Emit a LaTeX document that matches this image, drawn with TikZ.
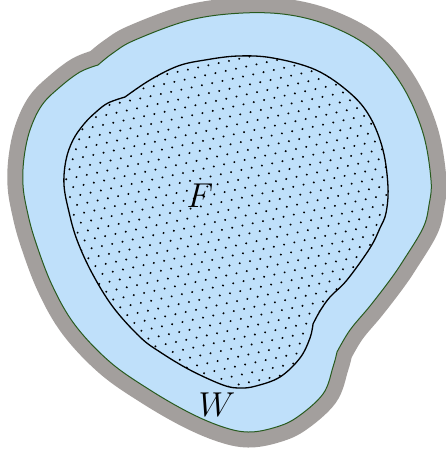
\documentclass[tikz,border=0pt]{standalone}
\definecolor{wblue}{RGB}{191,224,250}
\definecolor{wgray}{RGB}{163,159,157}
\definecolor{wgreen}{RGB}{40,90,30}
\tikzset{
  border/.style={draw=wgray, line width=15.5pt},
  water/.style={fill=wblue, draw=wgreen, line width=0.5pt},
  field/.style={draw=black, line width=0.65pt},
  dotc/.style={fill=black},
  lab/.style={font=\fontsize{16}{19}\selectfont, inner sep=0pt}
}
\def\outerpath{(98,65) -- plot[smooth, tension=0.6] coordinates {(98,65) (113,53) (135,40) (190,20) (243,13) (290,15) (333,27) (373,50) (403,87) (423,133) (431,180) (429,205) (423,228) (403,261) (390,280) (370,306) (350,330) (337,352)} -- plot[smooth, tension=0.6] coordinates {(337,352) (333,367) (323,394) (296,418) (273,428) (248,432) (223,427) (190,413) (150,390) (110,362) (75,325) (52,285) (35,240) (27,210) (23,185) (24,158) (30,130) (42,105) (60,87) (80,72) (98,65)} -- cycle}
\def\innerpath{(125,97) -- plot[smooth, tension=0.6] coordinates {(125,97) (150,80) (178,66) (205,60) (238,56) (273,58) (316,70) (350,93) (370,117) (383,150) (388,187) (386,213) (380,228) (370,248) (347,280) (330,297) (320,311) (313,324)} -- plot[smooth, tension=0.6] coordinates {(313,324) (310,338) (300,358) (280,377) (256,386) (240,388) (223,385) (190,370) (160,352) (140,337) (113,307) (92,273) (77,240) (69,212) (64,185) (66,160) (73,140) (84,124) (96,112) (108,103) (125,97)} -- cycle}
\begin{document}
\begin{tikzpicture}[x=0.5pt, y=-0.5pt]
\useasboundingbox (0,0) rectangle (446,457);
\path[border] \outerpath;
\path[water] \outerpath;
\begin{scope}
  \clip \innerpath;
  \begin{scope}[rotate around={12:(228,220)}]
    \foreach \j in {0,...,46} {
      \foreach \i in {0,...,42} {
        \fill[dotc] ({10+\i*10.5+mod(\j,2)*5.25},{10+\j*9.1}) circle (1.1);
      }
    }
  \end{scope}
\end{scope}
\path[field] \innerpath;
\node[lab] (F) at (200,196) {$F$};
\node[lab] (W) at (217,405) {$W$};
\end{tikzpicture}
\end{document}
